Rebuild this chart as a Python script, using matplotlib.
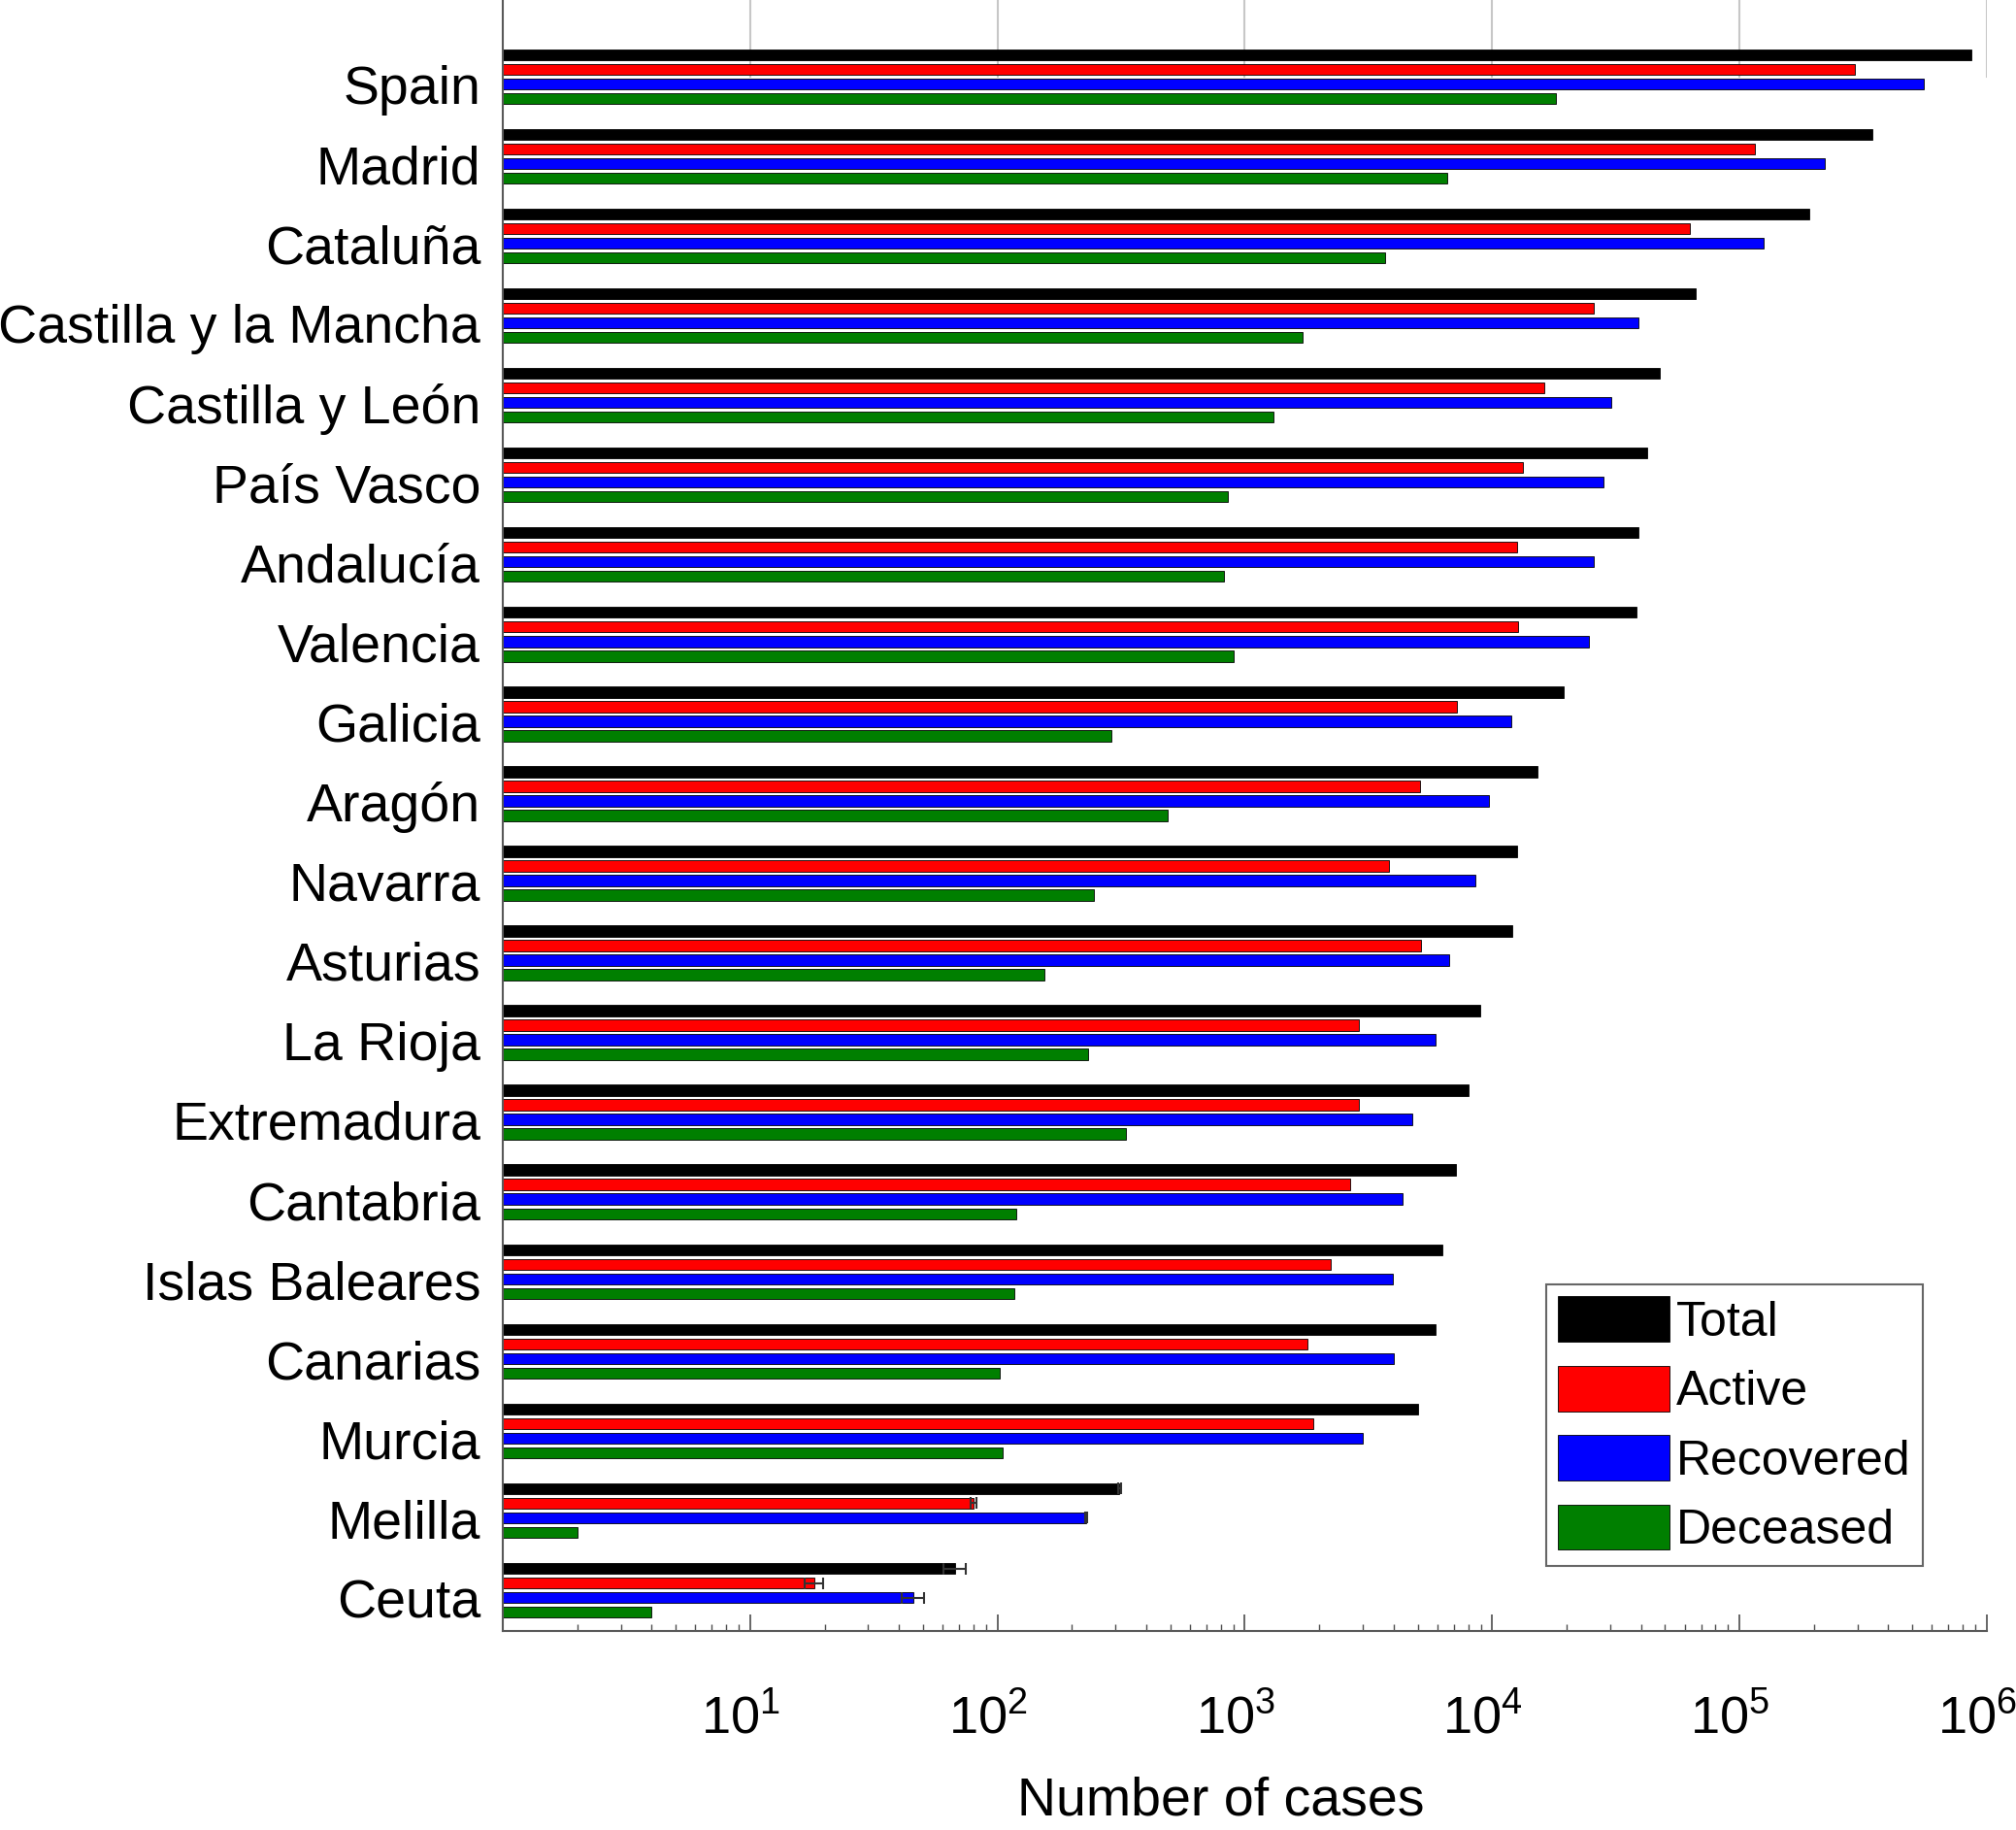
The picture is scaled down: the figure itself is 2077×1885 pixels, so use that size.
import numpy as np
import matplotlib.pyplot as plt
import matplotlib.transforms as mtransforms

plt.rcParams['font.family'] = ['Liberation Sans', 'DejaVu Sans']
plt.rcParams['mathtext.fontset'] = 'custom'
plt.rcParams['mathtext.rm'] = 'Liberation Sans'
plt.rcParams['mathtext.it'] = 'Liberation Sans:italic'
plt.rcParams['mathtext.bf'] = 'Liberation Sans:bold'

regions = ['Spain', 'Madrid', 'Cataluña', 'Castilla y la Mancha', 'Castilla y León',
           'País Vasco', 'Andalucía', 'Valencia', 'Galicia', 'Aragón', 'Navarra',
           'Asturias', 'La Rioja', 'Extremadura', 'Cantabria', 'Islas Baleares',
           'Canarias', 'Murcia', 'Melilla', 'Ceuta']

total = [869000, 344000, 192000, 66700, 47700, 42500, 39200, 38400, 19500, 15300,
         12660, 12070, 8950, 8040, 7130, 6320, 5890, 5040, 311, 67.6]
active = [294000, 115600, 63000, 25700, 16200, 13300, 12600, 12700, 7200, 5100,
          3820, 5160, 2900, 2900, 2670, 2230, 1800, 1890, 80, 18.2]
recovered = [557000, 222000, 125000, 39200, 30300, 28200, 25800, 24700, 12000, 9700,
             8530, 6710, 5890, 4740, 4360, 3960, 4010, 3010, 229, 45.7]
deceased = [18100, 6600, 3680, 1714, 1301, 855, 826, 898, 288, 488,
            246, 155, 232, 332, 119, 117, 102, 105, 2, 4]

# error bars only visible for the two small cities
err_regions = ['Melilla', 'Ceuta']
total_err = [4, 7]
active_err = [2.3, 1.6]
recovered_err = [2, 4.6]

fig = plt.figure(figsize=(20.77, 18.85), dpi=100)
ax = fig.add_axes([0.2494, 0.1088, 0.7361, 0.8912])

y = np.arange(len(regions))
step = 0.183
h = 0.14
series = [(total, 'black', 'Total'),
          (active, '#ff0000', 'Active'),
          (recovered, '#0000ff', 'Recovered'),
          (deceased, '#007f00', 'Deceased')]
for i, (vals, col, lab) in enumerate(series):
    ax.barh(y + (i - 1.5) * step, vals, height=h, color=col, edgecolor='black',
            linewidth=0.6, label=lab, zorder=2)

idx = [regions.index(r) for r in err_regions]
for i, (vals, err) in enumerate([(total, total_err), (active, active_err), (recovered, recovered_err)]):
    ax.errorbar([vals[k] for k in idx], y[idx] + (i - 1.5) * step, xerr=err,
                fmt='none', ecolor='0.2', capsize=4, elinewidth=1.5, capthick=1.5, zorder=3)

ax.set_xscale('log')
ax.set_xlim(1, 1e6)
ax.set_ylim(19.51, -0.96)

# short grid lines at the top only
for k in range(1, 7):
    ax.axvline(10 ** k, ymin=0.953, ymax=1, color='0.78', lw=1.5, zorder=1)

ax.set_yticks(y, regions)
ax.tick_params(axis='y', length=0, pad=16.5, labelsize=40)
ax.set_xticks([10 ** k for k in range(1, 7)], [f'$10^{{{k}}}$' for k in range(1, 7)])
ax.tick_params(axis='x', which='major', direction='in', length=12, width=1.2,
               color='0.3', pad=47, labelsize=39)
ax.tick_params(axis='x', which='minor', direction='in', length=5, width=1.0, color='0.3')

# nudge tick labels to match the reference placement
down = mtransforms.ScaledTranslation(0, -6 / 72, fig.dpi_scale_trans)
for lbl in ax.get_yticklabels():
    lbl.set_transform(lbl.get_transform() + down)
left = mtransforms.ScaledTranslation(-7 / 72, 0, fig.dpi_scale_trans)
for lbl in ax.get_xticklabels():
    lbl.set_transform(lbl.get_transform() + left)

for s in ['top', 'right']:
    ax.spines[s].set_visible(False)
for s in ['left', 'bottom']:
    ax.spines[s].set_color('0.35')
    ax.spines[s].set_linewidth(1.5)

ax.set_xlabel('Number of cases', fontsize=40)
ax.xaxis.set_label_coords(0.484, -0.0893)

leg = ax.legend(loc='upper left', bbox_to_anchor=(0.703, 0.2125), borderaxespad=0,
                fontsize=36, handlelength=2.3, handleheight=1.06, labelspacing=0.42,
                handletextpad=0.13, borderpad=0.25, fancybox=False, edgecolor='0.4',
                framealpha=1)
leg.get_frame().set_linewidth(1.5)

fig.savefig('out.png', dpi=100)
